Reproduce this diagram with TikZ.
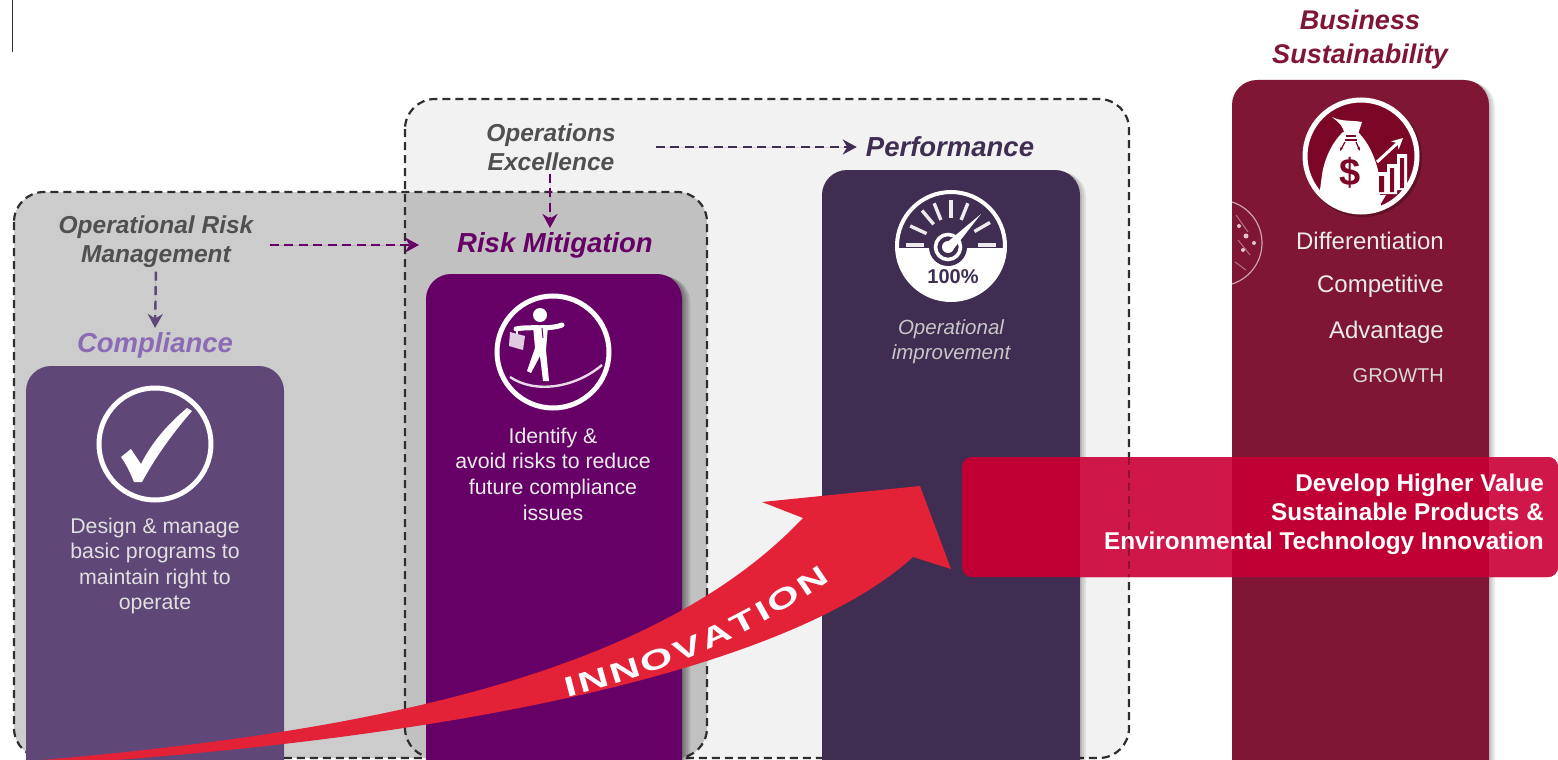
\documentclass[tikz,border=0pt]{standalone}
\usepackage{fontspec}
\setmainfont{Liberation Sans}
\newfontfamily\innofont[FakeStretch=1.5]{Liberation Sans}
\usetikzlibrary{arrows.meta,decorations.text}
\definecolor{cPlum}{HTML}{5F4777}
\definecolor{cPurple}{HTML}{660066}
\definecolor{cNavy}{HTML}{3F2D52}
\definecolor{cWine}{HTML}{7F1734}
\definecolor{cCoin}{HTML}{7C0625}
\definecolor{cLilac}{HTML}{8B6BB5}
\definecolor{cHead}{HTML}{505050}
\definecolor{cRed}{HTML}{E32237}
\definecolor{cBoxDark}{HTML}{C00035}
\definecolor{cBoxLight}{HTML}{D0174A}
\newcommand{\fsz}[2]{\fontsize{#1}{#2}\selectfont}
\tikzset{
  panel/.style={rounded corners=30pt,anchor=north west,inner sep=0pt,outer sep=0pt},
  dashpanel/.style={draw=black!82,line width=2.2pt,dash pattern=on 8pt off 5pt,rounded corners=30pt},
  card/.style={rounded corners=25pt,anchor=north west,inner sep=0pt,outer sep=0pt},
  head/.style={font=\bfseries\itshape\fsz{27.5}{30},align=center,inner sep=0pt},
  sub/.style={font=\bfseries\itshape\fsz{24.5}{29},align=center,inner sep=0pt,text=cHead},
  body/.style={font=\fsz{21.3}{25.6},align=center,inner sep=0pt},
  flow/.style={line width=2.4pt,dash pattern=on 9pt off 5.5pt,-{Stealth[length=14pt,width=15pt]}},
  ring/.style={draw=white,line width=5pt}
}
\begin{document}
\begin{tikzpicture}[x=1pt,y=-1pt]
\clip (0,0) rectangle (1558,760);
\fill[white] (0,0) rectangle (1558,760);
\draw[black!80,line width=1pt] (12,0) -- (12,52);
% panels
\node[panel,fill=black!5,minimum width=724pt,minimum height=659pt] (oebox) at (405,99) {};
\node[panel,fill=black,fill opacity=.2,minimum width=693pt,minimum height=566pt] (ormbox) at (14,192) {};
% dashed outlines
\draw[dashpanel] (oebox.north west) rectangle (oebox.south east);
\draw[dashpanel] (ormbox.north west) rectangle (ormbox.south east);
% cards
\node[card,fill=cPlum,minimum width=258pt,minimum height=430pt] (compcard) at (26,366) {};
\foreach \k in {2,4,6,8}{
  \fill[black,opacity=.11,rounded corners=25pt] (426+\k,274+\k/3) rectangle (682+\k,800);
}
\foreach \k in {2,4,6}{
  \fill[black,opacity=.08,rounded corners=25pt] (822+\k,170+\k/3) rectangle (1080+\k,800);
  \fill[black,opacity=.08,rounded corners=25pt] (1232+\k,80+\k/3) rectangle (1489+\k,800);
}
\node[card,fill=cPurple,minimum width=256pt,minimum height=520pt] (riskcard) at (426,274) {};
\node[card,fill=cNavy,minimum width=258pt,minimum height=620pt] (perfcard) at (822,170) {};
\node[card,fill=cWine,minimum width=257pt,minimum height=720pt] (bizcard) at (1232,80) {};
% faint stamp on the wine card
\begin{scope}
  \clip (1232,190) rectangle (1270,300);
  \draw[draw=white,draw opacity=.6,line width=1.2pt] (1219,243) circle (43);
  \fill[white,opacity=.75] (1239,226) circle (2) (1246,236) circle (2.5) (1254,243) circle (2) (1243,250) circle (2);
  \draw[white,opacity=.4,line width=1pt] (1236,215) -- (1248,232) (1238,240) -- (1250,255) (1235,262) -- (1246,270);
\end{scope}
% check icon
\draw[ring] (155,444) circle (56);
\fill[white] (121,457) -- (131,449) -- (141,464) .. controls (152,442) and (168,424) .. (187,408) -- (192,411) .. controls (172,434) and (155,458) .. (142,482) -- (134,482) .. controls (130,472) and (126,464) .. (121,457) -- cycle;
% walker icon
\draw[ring] (553,352) circle (56);
\draw[white!85!cPurple,line width=2.4pt] (510,377) .. controls (535,394) and (575,388) .. (602,365);
\fill[white] (540,315) circle (7);
\draw[white,line width=5pt,line cap=round] (516,329) .. controls (530,326) and (550,330) .. (562,325);
\fill[white] (533,326) -- (548,326) -- (546,350) -- (549,381) -- (543,381) -- (540,356) -- (531,373) -- (527,371) -- (535,348) -- cycle;
\draw[cPurple,line width=1pt] (542,328) -- (543,338);
\fill[white!80!cPurple] (510,332) -- (525,336) -- (523,350) -- (509,346) -- cycle;
\draw[white,line width=1.5pt] (517,329) -- (517,334);
% gauge icon
\begin{scope}
  \clip (951,246) circle (55);
  \fill[white] (880,248) rectangle (1020,310);
\end{scope}
\draw[white,line width=4pt] (951,246) circle (54);
\foreach \a in {180,155,130,112,90,68,30,0}{
  \draw[white!90!cNavy,line width=3.4pt] ([shift={(-\a:27)}]951,245) -- ([shift={(-\a:45)}]951,245);
}
\fill[cNavy] (948,247) circle (19);
\draw[white,line width=3.6pt] (948,247) circle (12.5);
\fill[white] (945,244) -- (952,251) -- (981,214) -- cycle;
\fill[white] (948,247) circle (6);
\node[font=\bfseries\fsz{20}{20},text=cNavy,inner sep=0pt] (pct) at (953,277) {100\%};
% money icon
\fill[black,opacity=.25] (1363,158) circle (59);
\fill[cCoin] (1361,156) circle (56);
\begin{scope}
  \clip (1361,156) circle (56);
  \fill[white] (1343,132) .. controls (1332,142) and (1324,160) .. (1322,175) -- (1316,220) -- (1382,220) -- (1378,170) .. controls (1374,155) and (1368,142) .. (1358,132) -- cycle;
  \fill[white] (1332,117) .. controls (1342,122) and (1352,120) .. (1362,122) -- (1358,134) -- (1344,134) .. controls (1344,126) and (1338,122) .. (1332,117) -- cycle;
  \fill[white] (1374,195) -- (1386,195) -- (1380,205) -- cycle;
  \draw[cCoin,line width=1.2pt] (1346,136) -- (1356,136) (1345,140) -- (1357,140);
  \draw[cCoin,line width=1.2pt,-{Stealth[length=4pt]}] (1345,142) -- (1340,151);
  \draw[cCoin,line width=1.2pt,-{Stealth[length=4pt]}] (1356,142) -- (1360,151);
  \fill[white] (1376,172) rectangle (1387,194) (1387,164) rectangle (1397,194) (1397,154) rectangle (1407,190);
  \fill[cCoin] (1379,176) rectangle (1384,192) (1390,168) rectangle (1394,192) (1400,158) rectangle (1404,188);
\end{scope}
\draw[white,line width=3pt,-{Stealth[length=11pt,width=11pt]}] (1377,162) -- (1403,138);
\draw[ring] (1361,156) circle (56);
\node[font=\bfseries\fsz{38}{38},text=cCoin,inner sep=0pt] (dollar) at (1350,173) {\$};
% labels
\node[head,text=cWine,font=\bfseries\itshape\fsz{27}{34}] (biz) at (1360,40) {Business\\Sustainability};
\node[head,text=cNavy] (perf) at (950,147) {Performance};
\node[sub] (oe) at (551,147) {Operations\\Excellence};
\node[sub] (orm) at (156,241.5) {Operational Risk\\Management};
\node[head,text=cPurple] (risk) at (555,245) {Risk Mitigation};
\node[head,text=cLilac] (comp) at (155,345) {Compliance};
% connectors
\draw[flow,draw=cNavy,fill=cNavy,shorten >=9pt] ([xshift=40pt]oe.east |- perf.west) -- (perf.west);
\draw[flow,draw=cPurple,fill=cPurple,shorten <=3pt,shorten >=4pt] (oe.south -| 550,0) -- (risk.north -| 550,0);
\draw[flow,draw=cPurple,fill=cPurple,shorten >=38pt] ([xshift=16pt]orm.east |- risk.west) -- (risk.west);
\draw[flow,draw=cPlum,fill=cPlum,shorten <=4pt,shorten >=4pt] (orm.south) -- (comp.north);
% card text
\node[body,text=black!12] (compt) at (155,566) {Design \& manage\\basic programs to\\maintain right to\\operate};
\node[body,text=black!8] (riskt) at (553,474) {Identify \&\\avoid risks to reduce\\future compliance\\issues};
\node[body,font=\itshape\fsz{20.5}{25},text=black!22] (perft) at (951,342) {Operational\\improvement};
\node[anchor=east,inner sep=0pt,text=black!8,font=\fsz{24}{24}] (t1) at (1444,240.5) {Differentiation};
\node[anchor=east,inner sep=0pt,text=black!8,font=\fsz{24}{24}] (t2) at (1444,286.5) {Competitive};
\node[anchor=east,inner sep=0pt,text=black!8,font=\fsz{24}{24}] (t3) at (1444,332) {Advantage};
\node[anchor=east,inner sep=0pt,text=black!15,font=\fsz{20}{20}] (t4) at (1444,376) {GROWTH};
% innovation arrow
\fill[cRed] (18,762) .. controls (350,735) and (650,680) .. (803,518) -- (762,502) -- (920,486) -- (951,569) -- (913,557) .. controls (800,660) and (500,735) .. (60,764) -- cycle;
\path[decorate,decoration={text along path,text align=fit to path,
  text={|\innofont\bfseries\fsz{28}{28}\color{white}|INNOVATION}}]
  (567,697) .. controls (665,672) and (745,640) .. (830,580);
% red box
\node[rounded corners=10pt,fill=cBoxDark,anchor=north west,inner sep=0pt,outer sep=0pt,minimum width=596pt,minimum height=120pt] (redbox) at (962,457) {};
\begin{scope}
  \clip[rounded corners=10pt] (962,457) rectangle (1558,577);
  \fill[cBoxLight] (1080,457) rectangle (1232,577) (1489,457) rectangle (1558,577);
  \draw[black,opacity=.3,line width=2pt,dash pattern=on 8pt off 5pt] (1129,457) -- (1129,577);
\end{scope}
\node[anchor=north east,align=right,inner sep=0pt,text=white,font=\bfseries\fsz{24.3}{29}] (redt) at (1544,473.5) {Develop Higher Value\\Sustainable Products \&\\Environmental Technology Innovation};
\end{tikzpicture}
\end{document}
